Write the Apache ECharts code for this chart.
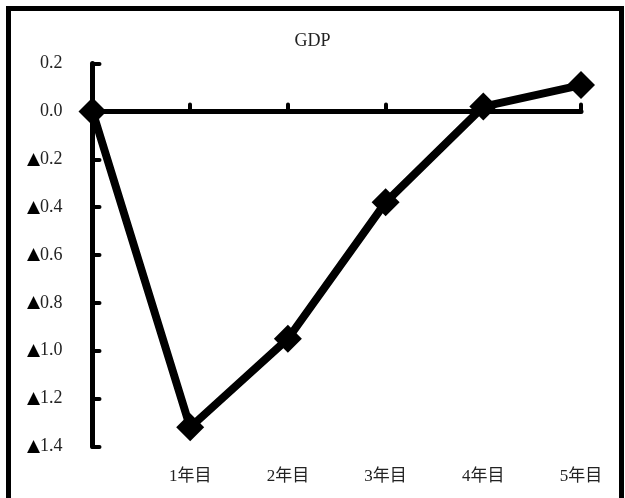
<!DOCTYPE html>
<html>
<head>
<meta charset="utf-8">
<style>
  html, body { margin: 0; padding: 0; background: #fff; }
  #chart { width: 625px; height: 498px; }
</style>
<script src="https://cdn.jsdelivr.net/npm/echarts@6/dist/echarts.min.js"></script>
</head>
<body>
<div id="chart"></div>
<script>
// Years after the change; the first slot is the starting point (no label)
const categories = ['', '1年目', '2年目', '3年目', '4年目', '5年目'];
// GDP deviation (%)
const gdpValues = [0, -1.32, -0.95, -0.38, 0.02, 0.11];
// Value axis range
const yMin = -1.4;
const yMax = 0.2;
const yStep = 0.2;

const FONT = '"Liberation Serif", "DejaVu Serif", "Noto Sans CJK JP", serif';

// Negative numbers are written with a leading ▲
function formatValue(v) {
  const r = Math.round(v * 10) / 10;
  if (r < 0) return '{tri|▲}' + Math.abs(r).toFixed(1);
  return r.toFixed(1);
}

const chart = echarts.init(document.getElementById('chart'), null, { renderer: 'canvas' });

chart.setOption({
  animation: false,
  backgroundColor: '#fff',
  title: {
    text: 'GDP',
    left: 'center',
    top: 27,
    textStyle: { fontFamily: FONT, fontSize: 18, fontWeight: 'normal', color: '#222' }
  },
  graphic: [{
    type: 'rect',
    shape: { x: 8.5, y: 8.5, width: 613, height: 520 },
    style: { fill: 'none', stroke: '#000', lineWidth: 5 },
    silent: true,
    z: 100
  }],
  grid: { left: 92.5, right: 44, top: 63.5, bottom: 51.5 },
  xAxis: [
    {
      // axis line drawn through zero, ticks pointing up
      type: 'category',
      data: categories,
      boundaryGap: false,
      axisLine: { onZero: true, lineStyle: { color: '#000', width: 5, cap: 'round' } },
      axisTick: { show: true, inside: true, length: 7, lineStyle: { color: '#000', width: 4, cap: 'round' } },
      axisLabel: { show: false },
      splitLine: { show: false }
    },
    {
      // category labels along the bottom edge
      type: 'category',
      data: categories,
      boundaryGap: false,
      position: 'bottom',
      axisLine: { show: false, onZero: false },
      axisTick: { show: false },
      axisLabel: { show: true, margin: 22, fontFamily: FONT, fontSize: 17, color: '#222' },
      splitLine: { show: false }
    }
  ],
  yAxis: {
    type: 'value',
    min: yMin,
    max: yMax,
    interval: yStep,
    axisLine: { show: true, lineStyle: { color: '#000', width: 5, cap: 'round' } },
    axisTick: { show: true, inside: true, length: 7, lineStyle: { color: '#000', width: 4, cap: 'round' } },
    axisLabel: {
      margin: 30, fontFamily: FONT, fontSize: 18, color: '#222', formatter: formatValue,
      rich: { tri: { fontFamily: '"DejaVu Sans", sans-serif', fontSize: 17, color: '#000' } }
    },
    splitLine: { show: false }
  },
  series: [{
    type: 'line',
    xAxisIndex: 0,
    data: gdpValues,
    symbol: 'diamond',
    symbolSize: 28,
    showAllSymbol: true,
    lineStyle: { color: '#000', width: 8 },
    itemStyle: { color: '#000', borderWidth: 0 },
    z: 5
  }]
});
</script>
</body>
</html>
